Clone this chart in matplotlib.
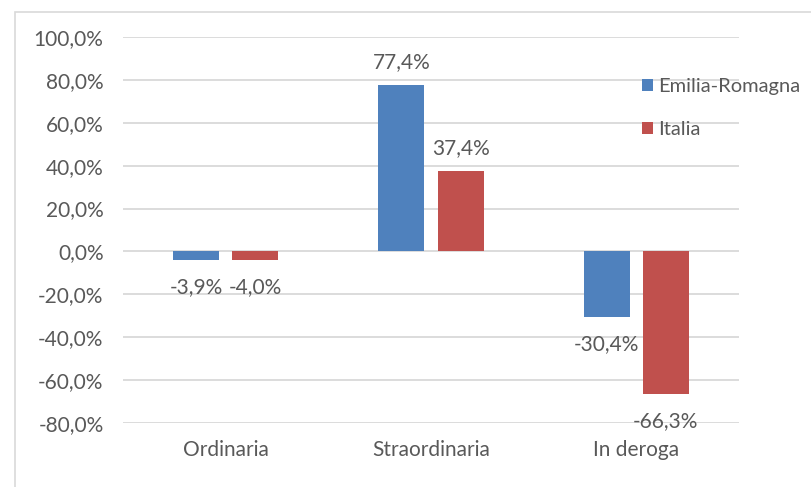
import matplotlib.pyplot as plt
from matplotlib.patches import Rectangle
import numpy as np

categories = ["Ordinaria", "Straordinaria", "In deroga"]
emilia = [-3.9, 77.4, -30.4]
italia = [-4.0, 37.4, -66.3]
yticks = [-80, -60, -40, -20, 0, 20, 40, 60, 80, 100]

blue = "#4F81BD"
red = "#C0504D"
grey_txt = "#595959"
grid = "#D9D9D9"

plt.rcParams['font.family'] = ['Lato', 'DejaVu Sans']

W, H = 812, 487
fig = plt.figure(figsize=(W / 100, H / 100), dpi=100)
ax = fig.add_axes([123/W, 1 - 423/H, 616/W, 386/H])

# outer chart border (top and left visible, rest cropped)
fig.patches.append(Rectangle((15/W, -0.1), 1.2, 1 - 12/H + 0.1,
                             transform=fig.transFigure, fill=False,
                             edgecolor=grid, linewidth=1.2))

x = np.arange(len(categories))
w = 0.224
off = 0.144
b1 = ax.bar(x - off, emilia, w, color=blue, label="Emilia-Romagna", zorder=3)
b2 = ax.bar(x + off, italia, w, color=red, label="Italia", zorder=3)

def fmt(v):
    return f"{v:.1f}%".replace(".", ",")

for bars, vals in ((b1, emilia), (b2, italia)):
    for r, v in zip(bars, vals):
        cx = r.get_x() + r.get_width() / 2
        dy = 16.5 if v >= 0 else -19.5
        ax.annotate(fmt(v), (cx, v), xytext=(0, dy), textcoords="offset points",
                    ha="center", va="center", color=grey_txt, fontsize=15)

ax.set_ylim(-80, 100)
ax.set_xlim(-0.5, 2.5)
ax.set_yticks(yticks)
ax.set_yticklabels([fmt(t) for t in yticks])
ax.set_xticks(x)
ax.set_xticklabels(categories)
ax.tick_params(axis="both", length=0, colors=grey_txt, labelsize=15)
ax.tick_params(axis="y", pad=14)
ax.tick_params(axis="x", pad=12)
ax.yaxis.grid(True, color=grid, linewidth=1.3, zorder=0)
ax.set_axisbelow(True)
for s in ax.spines.values():
    s.set_visible(False)

leg = ax.legend(loc="upper left", bbox_to_anchor=(632/W, 1 - 68/H),
                bbox_transform=fig.transFigure, frameon=False, fontsize=14.5,
                handlelength=0.55, handleheight=0.55, handletextpad=0.25,
                labelspacing=1.3, borderpad=0)
for t in leg.get_texts():
    t.set_color(grey_txt)

fig.savefig("out.png", dpi=100)
